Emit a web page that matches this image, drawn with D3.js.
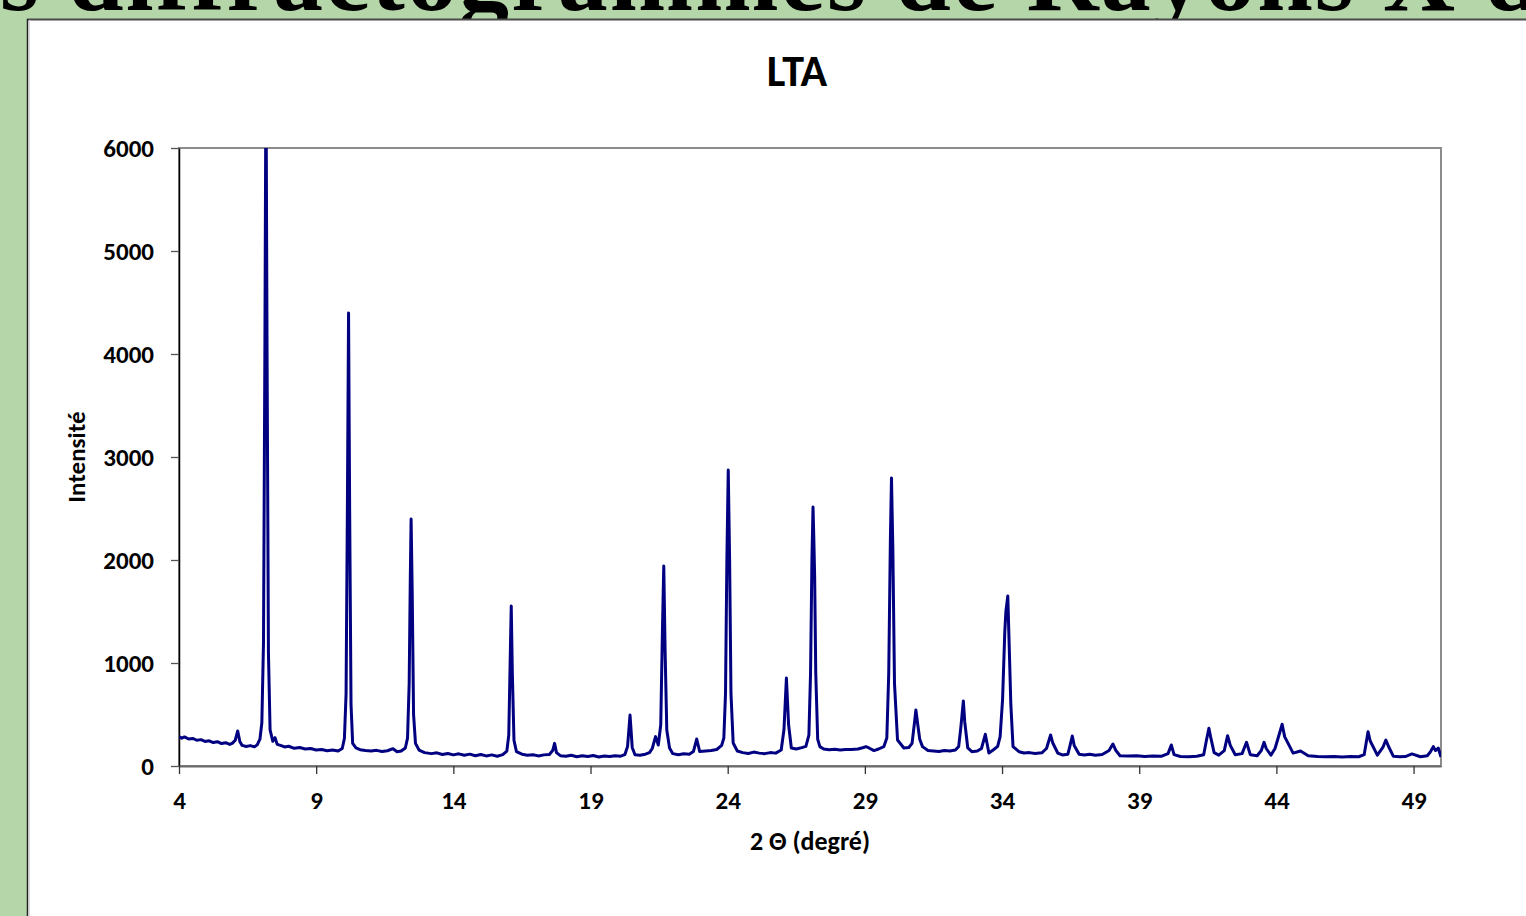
<!DOCTYPE html>
<html>
<head>
<meta charset="utf-8">
<script src="https://cdn.jsdelivr.net/npm/d3@7"></script>
<style>
  body { margin: 0; background: #b5d6a8; }
  svg { display: block; }
</style>
</head>
<body>
<div id="chart"></div>
<script>
// 2θ positions (degrees)
var twoTheta = [
    4.0, 4.1, 4.2, 4.35, 4.5, 4.65, 4.8, 4.95, 5.1, 5.25, 5.4, 5.55, 5.7, 5.85, 5.95,
    6.05, 6.14, 6.22, 6.3, 6.45, 6.6, 6.75, 6.85, 6.95, 7.02, 7.08, 7.13, 7.17, 7.21, 7.26,
    7.32, 7.42, 7.5, 7.58, 7.7, 7.85, 8.0, 8.2, 8.4, 8.6, 8.8, 9.0, 9.2, 9.4, 9.6,
    9.8, 9.95, 10.03, 10.09, 10.14, 10.18, 10.22, 10.27, 10.33, 10.45, 10.6, 10.8, 11.0, 11.2, 11.4,
    11.6, 11.8, 11.95, 12.1, 12.25, 12.33, 12.39, 12.43, 12.46, 12.5, 12.55, 12.62, 12.75, 12.95, 13.2,
    13.4, 13.6, 13.8, 14.0, 14.2, 14.4, 14.6, 14.8, 15.0, 15.2, 15.4, 15.6, 15.8, 15.95, 16.02,
    16.07, 16.11, 16.15, 16.21, 16.3, 16.5, 16.7, 16.9, 17.1, 17.3, 17.5, 17.62, 17.69, 17.76, 17.9,
    18.1, 18.3, 18.5, 18.7, 18.9, 19.1, 19.3, 19.5, 19.7, 19.9, 20.1, 20.25, 20.35, 20.44, 20.52,
    20.62, 20.8, 21.0, 21.15, 21.25, 21.37, 21.47, 21.56, 21.62, 21.67, 21.72, 21.78, 21.88, 22.0, 22.2,
    22.4, 22.6, 22.75, 22.87, 22.98, 23.2, 23.4, 23.6, 23.78, 23.86, 23.92, 23.97, 24.02, 24.07, 24.12,
    24.2, 24.35, 24.55, 24.75, 24.95, 25.15, 25.35, 25.55, 25.75, 25.95, 26.05, 26.14, 26.22, 26.32, 26.5,
    26.7, 26.85, 26.96, 27.02, 27.07, 27.11, 27.14, 27.17, 27.21, 27.28, 27.36, 27.5, 27.7, 27.9, 28.1,
    28.3, 28.5, 28.75, 28.95, 29.04, 29.15, 29.33, 29.5, 29.69, 29.8, 29.87, 29.93, 29.97, 30.02, 30.08,
    30.19, 30.42, 30.6, 30.72, 30.8, 30.86, 30.92, 31.0, 31.1, 31.3, 31.5, 31.7, 31.9, 32.1, 32.3,
    32.42, 32.5, 32.59, 32.64, 32.75, 32.9, 33.1, 33.25, 33.39, 33.52, 33.7, 33.84, 33.93, 34.02, 34.1,
    34.14, 34.21, 34.26, 34.32, 34.4, 34.62, 34.8, 35.0, 35.2, 35.45, 35.62, 35.77, 35.85, 36.03, 36.2,
    36.4, 36.48, 36.56, 36.63, 36.81, 37.0, 37.2, 37.4, 37.65, 37.9, 38.04, 38.15, 38.3, 38.6, 38.9,
    39.2, 39.5, 39.8, 40.05, 40.17, 40.27, 40.5, 40.8, 41.1, 41.35, 41.45, 41.54, 41.6, 41.73, 41.9,
    42.1, 42.22, 42.32, 42.5, 42.75, 42.91, 43.05, 43.3, 43.45, 43.55, 43.63, 43.8, 43.95, 44.05, 44.21,
    44.3, 44.61, 44.88, 45.16, 45.5, 45.8, 46.1, 46.4, 46.7, 47.0, 47.2, 47.34, 47.42, 47.68, 47.88,
    47.99, 48.08, 48.26, 48.5, 48.7, 48.94, 49.25, 49.5, 49.62, 49.72, 49.8, 49.9, 50.0
];

// intensity (counts) at each 2θ above
var intensity = [
    285, 270, 282, 262, 268, 250, 256, 238, 245, 228, 236, 218, 226, 210, 222,
    250, 340, 235, 200, 190, 198, 186, 205, 260, 420, 1200, 4000, 6800, 4000, 1100,
    350, 240, 275, 210, 200, 185, 192, 172, 180, 165, 170, 155, 160, 148, 155,
    145, 170, 270, 700, 2600, 4398, 2500, 600, 220, 175, 158, 150, 145, 152, 140,
    148, 168, 138, 145, 175, 270, 800, 1800, 2398, 1700, 500, 220, 155, 130, 120,
    128, 112, 122, 108, 118, 104, 115, 100, 112, 98, 108, 95, 110, 145, 300,
    1000, 1553, 900, 250, 140, 115, 105, 110, 98, 108, 112, 150, 220, 130, 100,
    95, 104, 90, 100, 92, 102, 88, 98, 92, 100, 95, 110, 190, 495, 180,
    110, 105, 115, 130, 170, 285, 204, 400, 1300, 1942, 1100, 350, 175, 120, 110,
    118, 115, 140, 262, 140, 146, 150, 160, 200, 272, 700, 2000, 2874, 2000, 700,
    223, 146, 130, 122, 135, 125, 120, 130, 125, 155, 350, 854, 400, 175, 165,
    178, 190, 300, 900, 2000, 2515, 2200, 1835, 900, 260, 188, 165, 158, 162, 155,
    160, 160, 165, 180, 188, 175, 150, 165, 188, 272, 900, 2200, 2796, 2100, 800,
    252, 175, 180, 220, 400, 544, 417, 260, 188, 150, 146, 140, 150, 145, 155,
    190, 380, 631, 430, 175, 139, 145, 170, 308, 126, 160, 190, 285, 650, 1300,
    1500, 1650, 1175, 600, 188, 139, 126, 130, 122, 128, 170, 301, 223, 126, 107,
    115, 200, 291, 200, 115, 107, 115, 105, 112, 150, 214, 150, 100, 97, 100,
    92, 97, 94, 120, 204, 110, 92, 90, 95, 110, 250, 366, 285, 130, 105,
    150, 294, 200, 110, 120, 230, 110, 100, 150, 230, 170, 105, 170, 260, 405,
    285, 125, 146, 100, 92, 90, 93, 88, 92, 90, 110, 333, 243, 105, 180,
    252, 194, 95, 90, 92, 117, 90, 100, 140, 188, 150, 175, 87
];

var xTicks = [4, 9, 14, 19, 24, 29, 34, 39, 44, 49];
var yTicks = [0, 1000, 2000, 3000, 4000, 5000, 6000];

var slideTitle = "s diffractogrammes de Rayons X d";
var chartTitle = "LTA";
var xTitle = "2 \u0398 (degré)";
var yTitle = "Intensité";

// page and plot geometry
var W = 1526, H = 916;
var margin = { top: 148, right: 85, bottom: 150, left: 179 };
var plotW = W - margin.left - margin.right;   // 4 -> 50
var plotH = H - margin.top - margin.bottom;   // 6000 -> 0
var labelFont = "Carlito, Calibri, Lato, sans-serif";

var svg = d3.select("#chart")
    .append("svg")
    .attr("width", W)
    .attr("height", H);

// cropped slide heading behind the white panel
svg.append("text")
    .attr("x", 0)
    .attr("y", 10)
    .attr("textLength", 1540)
    .attr("lengthAdjust", "spacing")
    .style("font-family", "'Liberation Serif', 'DejaVu Serif', serif")
    .style("font-weight", "bold")
    .style("font-size", "100px")
    .style("fill", "#000")
    .text(slideTitle);

// white chart panel
svg.append("rect")
    .attr("x", 27)
    .attr("y", 19)
    .attr("width", W)
    .attr("height", H)
    .style("fill", "#fff");
svg.append("line")
    .attr("x1", 27).attr("x2", W)
    .attr("y1", 19.5).attr("y2", 19.5)
    .style("stroke", "#4a4a4a")
    .style("stroke-width", 2);
svg.append("line")
    .attr("x1", 27.5).attr("x2", 27.5)
    .attr("y1", 19).attr("y2", H)
    .style("stroke", "#222")
    .style("stroke-width", 1.5);
svg.append("line")
    .attr("x1", 29.5).attr("x2", 29.5)
    .attr("y1", 20).attr("y2", H)
    .style("stroke", "#d8d8d8")
    .style("stroke-width", 1);

var g = svg.append("g")
    .attr("transform", "translate(" + margin.left + "," + margin.top + ")");

var x = d3.scaleLinear()
    .domain([4, 50])
    .range([0, plotW]);

var y = d3.scaleLinear()
    .domain([0, 6000])
    .range([plotH, 0]);

// plot frame (grey top / right)
g.append("rect")
    .attr("x", 0)
    .attr("y", 0)
    .attr("width", plotW)
    .attr("height", plotH)
    .style("fill", "none")
    .style("stroke", "#8c8c8c")
    .style("stroke-width", 2);

// axes
var yAxis = g.append("g")
    .call(d3.axisLeft(y).tickValues(yTicks).tickSize(8).tickSizeOuter(0).tickFormat(d3.format("d")));
yAxis.select(".domain").style("stroke", "#000").style("stroke-width", 1.5);
yAxis.selectAll(".tick line").style("stroke", "#555").style("stroke-width", 1.3);
yAxis.selectAll(".tick text")
    .attr("x", -25)
    .style("font-family", labelFont)
    .style("font-weight", "bold")
    .style("font-size", "25px")
    .style("fill", "#000");

var xAxis = g.append("g")
    .attr("transform", "translate(0," + plotH + ")")
    .call(d3.axisBottom(x).tickValues(xTicks).tickSize(8).tickSizeOuter(0));
xAxis.select(".domain").style("stroke", "#6a6a6a").style("stroke-width", 2);
xAxis.selectAll(".tick line").style("stroke", "#333").style("stroke-width", 1.3);
xAxis.selectAll(".tick text")
    .attr("y", 25)
    .style("font-family", labelFont)
    .style("font-weight", "bold")
    .style("font-size", "25px")
    .style("fill", "#000");

// diffraction pattern
g.append("clipPath")
    .attr("id", "plotClip")
    .append("rect")
    .attr("x", 0)
    .attr("y", 0)
    .attr("width", plotW)
    .attr("height", plotH);

var points = twoTheta.map(function (t, i) { return [t, intensity[i]]; });

var line = d3.line()
    .x(function (d) { return x(d[0]); })
    .y(function (d) { return y(d[1]); });

g.append("path")
    .datum(points)
    .attr("clip-path", "url(#plotClip)")
    .attr("d", line)
    .style("fill", "none")
    .style("stroke", "#000080")
    .style("stroke-width", 3)
    .style("stroke-linejoin", "round");

// titles
svg.append("text")
    .attr("x", 797)
    .attr("y", 86)
    .attr("text-anchor", "middle")
    .style("font-family", labelFont)
    .style("font-weight", "bold")
    .style("font-size", "44px")
    .text(chartTitle);

svg.append("text")
    .attr("x", 810)
    .attr("y", 850)
    .attr("text-anchor", "middle")
    .style("font-family", labelFont)
    .style("font-weight", "bold")
    .style("font-size", "26px")
    .text(xTitle);

svg.append("text")
    .attr("transform", "translate(85,457) rotate(-90)")
    .attr("text-anchor", "middle")
    .style("font-family", labelFont)
    .style("font-weight", "bold")
    .style("font-size", "25px")
    .text(yTitle);
</script>
</body>
</html>
